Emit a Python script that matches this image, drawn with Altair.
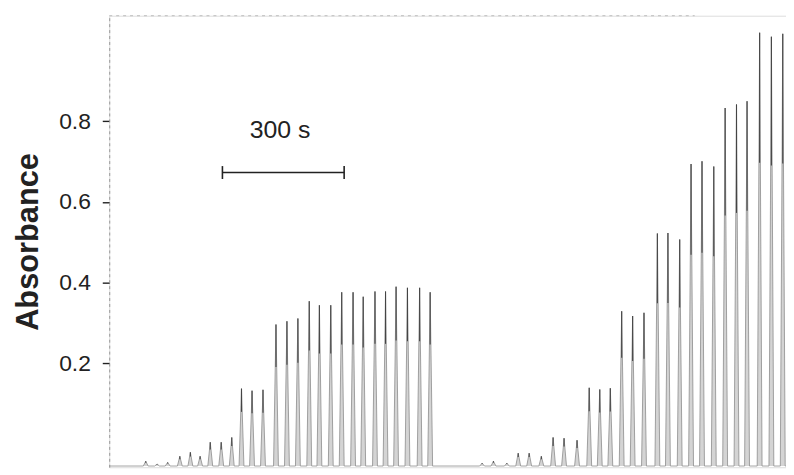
import altair as alt
import pandas as pd

# ---- data ----
# injection peak times (s) and peak absorbance values
peak_time_1 = [90, 118, 144, 174, 200, 224, 249, 276, 302, 326, 352, 379,
               411, 438, 465, 493, 518, 546, 573, 601, 626, 655, 681, 707,
               735, 765, 791]
peak_abs_1 = [-0.043, -0.050, -0.046, -0.031, -0.021, -0.031, 0.004, 0.004, 0.016,
              0.137, 0.132, 0.134, 0.296, 0.304, 0.311, 0.354, 0.344, 0.344,
              0.376, 0.376, 0.365, 0.378, 0.378, 0.390, 0.387, 0.387, 0.376]
peak_time_2 = [919, 947, 980, 1008, 1035, 1065, 1094, 1121, 1153, 1183, 1209, 1235,
               1263, 1290, 1318, 1351, 1377, 1406, 1434, 1461, 1490, 1518, 1546,
               1572, 1603, 1632, 1660]
peak_abs_2 = [-0.048, -0.043, -0.048, -0.023, -0.023, -0.031, 0.016, 0.014, 0.009,
              0.139, 0.135, 0.138, 0.329, 0.317, 0.325, 0.522, 0.523, 0.507,
              0.694, 0.701, 0.688, 0.833, 0.842, 0.850, 1.020, 1.010, 1.017]
baseline_abs = -0.055
y_ticks = [0.2, 0.4, 0.6, 0.8]
scale_bar_start = 279   # s
scale_bar_len = 300     # s
scale_bar_abs = 0.673
scale_label = "300 s"

# ---- domains / styles ----
X_MIN, X_MAX = 0, 1668
Y_MIN, Y_MAX = -0.058, 1.062
HALF_W = 6      # half base width of a drawn peak (s)
CAP = 0.016     # half height of scale bar end caps

times = peak_time_1 + peak_time_2
heights = peak_abs_1 + peak_abs_2

trace = [(X_MIN, baseline_abs)]
for t, h in zip(times, heights):
    trace += [(t - HALF_W, baseline_abs), (t, h), (t + HALF_W, baseline_abs)]
trace.append((X_MAX, baseline_abs))
trace_df = pd.DataFrame(trace, columns=["t", "a"])
trace_df["b"] = baseline_abs

peaks_df = pd.DataFrame({"t": times, "a": heights})
peaks_df["top"] = peaks_df["a"]
peaks_df["low"] = peaks_df["a"] - 0.3 * (peaks_df["a"] - baseline_abs)

xs = alt.Scale(domain=[X_MIN, X_MAX], nice=False, zero=False)
ys = alt.Scale(domain=[Y_MIN, Y_MAX], nice=False, zero=False)

area = alt.Chart(trace_df).mark_area(color="#cfcfcf", opacity=0.9).encode(
    x=alt.X("t:Q", scale=xs, axis=None),
    y=alt.Y("a:Q", scale=ys,
            axis=alt.Axis(values=y_ticks, format=".1f", title="Absorbance",
                          grid=False, domainColor="#9a9a9a", domainDash=[3, 3],
                          domainWidth=1, tickColor="#222", tickSize=7, tickWidth=1.4,
                          labelFontSize=23, labelColor="#222", labelFont="Liberation Sans",
                          labelPadding=12, titleFont="Liberation Sans", titleFontSize=31,
                          titleFontWeight="bold", titleColor="#222", titlePadding=14)),
    y2="b:Q",
)
line = alt.Chart(trace_df).mark_line(color="#8c8c8c", strokeWidth=0.8).encode(
    x=alt.X("t:Q", scale=xs), y=alt.Y("a:Q", scale=ys)
)
cores = alt.Chart(peaks_df).mark_rule(color="#444", strokeWidth=1.1).encode(
    x=alt.X("t:Q", scale=xs), y=alt.Y("low:Q", scale=ys), y2="top:Q"
)

top_df = pd.DataFrame({"x1": [X_MIN], "x2": [1443], "y": [Y_MAX]})
top_line = alt.Chart(top_df).mark_rule(color="#bdbdbd", strokeDash=[3, 4], strokeWidth=1).encode(
    x=alt.X("x1:Q", scale=xs), x2="x2:Q", y=alt.Y("y:Q", scale=ys)
)

bar_df = pd.DataFrame({"x1": [scale_bar_start], "x2": [scale_bar_start + scale_bar_len],
                       "y": [scale_bar_abs]})
bar = alt.Chart(bar_df).mark_rule(color="#222", strokeWidth=1.6).encode(
    x=alt.X("x1:Q", scale=xs), x2="x2:Q", y=alt.Y("y:Q", scale=ys)
)
caps_df = pd.DataFrame({"x": [scale_bar_start, scale_bar_start + scale_bar_len],
                        "y1": [scale_bar_abs - CAP] * 2, "y2": [scale_bar_abs + CAP] * 2})
caps = alt.Chart(caps_df).mark_rule(color="#222", strokeWidth=1.6).encode(
    x=alt.X("x:Q", scale=xs), y=alt.Y("y1:Q", scale=ys), y2="y2:Q"
)
label_df = pd.DataFrame({"x": [scale_bar_start + scale_bar_len / 2 - 8],
                         "y": [scale_bar_abs + 0.105], "txt": [scale_label]})
label = alt.Chart(label_df).mark_text(font="Liberation Sans", fontSize=25, color="#222",
                                      align="center", baseline="middle").encode(
    x=alt.X("x:Q", scale=xs), y=alt.Y("y:Q", scale=ys), text="txt:N"
)

chart = alt.layer(area, line, cores, top_line, bar, caps, label).properties(
    width=682, height=455,
    autosize=alt.AutoSizeParams(type="none"),
    padding={"left": 102, "top": 6, "right": 0, "bottom": 0},
).configure_view(stroke=None).configure(background="white")

chart.save("out.html", embed_options={"renderer": "svg", "actions": False})
